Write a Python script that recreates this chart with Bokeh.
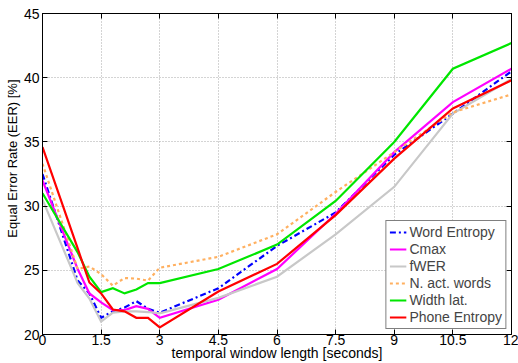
from bokeh.plotting import figure
from bokeh.models import FixedTicker, LinearAxis, Legend, LegendItem, Range1d, Title
from bokeh.embed import file_html
from bokeh.resources import INLINE

window_s = [0, 0.9, 1.2, 1.5, 1.8, 2.1, 2.4, 2.7, 3.0, 4.5, 6, 7.5, 9, 10.5, 12]
word_entropy = [32.5, 24.2, 23.2, 21.3, 21.8, 22.1, 22.6, 22.0, 21.7, 23.6, 26.9, 29.5, 34.0, 37.2, 40.5]
cmax = [32.0, 25.1, 23.2, 22.5, 21.9, 21.9, 22.2, 22.0, 21.3, 22.7, 25.1, 29.4, 34.2, 38.1, 40.7]
fwer = [30.5, 24.0, 22.8, 21.0, 21.7, 21.8, 21.8, 21.75, 21.65, 22.85, 24.5, 27.8, 31.5, 37.2, 39.9]
n_act_words = [33.3, 25.1, 25.3, 24.7, 23.8, 24.4, 24.35, 24.2, 25.2, 26.05, 27.8, 31.1, 34.2, 37.3, 38.7]
width_lat = [31.0, 26.4, 24.5, 23.3, 23.6, 23.2, 23.5, 24.0, 24.0, 25.1, 27.0, 30.4, 35.0, 40.7, 42.7]
phone_entropy = [34.6, 26.7, 24.05, 23.2, 21.95, 21.8, 21.3, 21.3, 20.55, 23.35, 25.5, 29.3, 33.7, 37.6, 39.8]

x_ticks = [0, 1.5, 3, 4.5, 6, 7.5, 9, 10.5, 12]
x_tick_labels = ["0", "1.5", "3", "4.5", "6", "7.5", "9", "10.5", "12"]
y_ticks = [20, 25, 30, 35, 40, 45]

FONT = "Liberation Sans"
FS = "14px"

p = figure(width=518, height=363, output_backend="svg", toolbar_location=None,
           x_range=Range1d(0, 12), y_range=Range1d(20, 45),
           min_border_left=42, min_border_right=7, min_border_top=13, min_border_bottom=29)
p.outline_line_color = "black"
p.outline_line_width = 1
p.background_fill_color = "white"

for ax in (p.xaxis[0], p.yaxis[0]):
    ax.major_tick_in = 5
    ax.major_tick_out = 0
    ax.minor_tick_in = 0
    ax.minor_tick_out = 0
    ax.axis_line_color = "black"
    ax.major_tick_line_color = "black"
    ax.major_label_text_font = FONT
    ax.major_label_text_font_size = FS
    ax.major_label_text_color = "black"
    ax.axis_label_text_font = FONT
    ax.axis_label_text_font_size = FS
    ax.axis_label_text_font_style = "normal"
    ax.axis_label_text_color = "black"

p.xaxis[0].ticker = FixedTicker(ticks=x_ticks)
p.xaxis[0].major_label_overrides = {t: l for t, l in zip(x_ticks, x_tick_labels)}
p.xaxis[0].axis_label = "temporal window length [seconds]"
p.xaxis[0].major_label_standoff = 0
p.xaxis[0].axis_label_standoff = -3

p.yaxis[0].ticker = FixedTicker(ticks=y_ticks)
p.yaxis[0].major_label_standoff = 3

# y-axis title as a left-side title, so it can be shifted towards the top like the reference
ytitle = Title(text="Equal Error Rate (EER) [%]", align="right", offset=66,
               text_font=FONT, text_font_size="13px", text_font_style="normal",
               text_color="black", standoff=1)
p.add_layout(ytitle, "left")

blank_x = {t: "" for t in x_ticks}
blank_y = {t: "" for t in y_ticks}
top = LinearAxis(ticker=FixedTicker(ticks=x_ticks), major_tick_in=5, major_tick_out=0,
                 minor_tick_in=0, minor_tick_out=0, major_label_overrides=blank_x,
                 major_label_standoff=0, axis_line_color="black")
right = LinearAxis(ticker=FixedTicker(ticks=y_ticks), major_tick_in=5, major_tick_out=0,
                   minor_tick_in=0, minor_tick_out=0, major_label_overrides=blank_y,
                   major_label_standoff=0, axis_line_color="black")
p.add_layout(top, "above")
p.add_layout(right, "right")

p.xgrid.ticker = FixedTicker(ticks=x_ticks)
p.ygrid.ticker = FixedTicker(ticks=y_ticks)
for g in (p.xgrid[0], p.ygrid[0]):
    g.grid_line_color = "#a8a8a8"
    g.grid_line_dash = "1 2"
    g.grid_line_width = 1

series = [
    ("Word Entropy", word_entropy, "#0000ff", "6 3 2 3"),
    ("Cmax", cmax, "#ff00ff", "solid"),
    ("fWER", fwer, "#c8c8c8", "solid"),
    ("N. act. words", n_act_words, "#ffb060", "3 3"),
    ("Width lat.", width_lat, "#00e600", "solid"),
    ("Phone Entropy", phone_entropy, "#ff0000", "solid"),
]
items = []
for name, ys, color, dash in series:
    r = p.line(window_s, ys, line_color=color, line_width=2.2, line_dash=dash, line_join="miter")
    items.append(LegendItem(label=name, renderers=[r]))

legend = Legend(items=items, location="bottom_right", margin=5,
                border_line_color="black", border_line_width=1,
                background_fill_color="white", background_fill_alpha=1,
                label_text_font=FONT, label_text_font_size=FS,
                label_height=16, glyph_height=16, glyph_width=17,
                label_standoff=3, spacing=1, padding=3)
p.add_layout(legend, "center")

open("out.html", "w").write(file_html(p, INLINE))
